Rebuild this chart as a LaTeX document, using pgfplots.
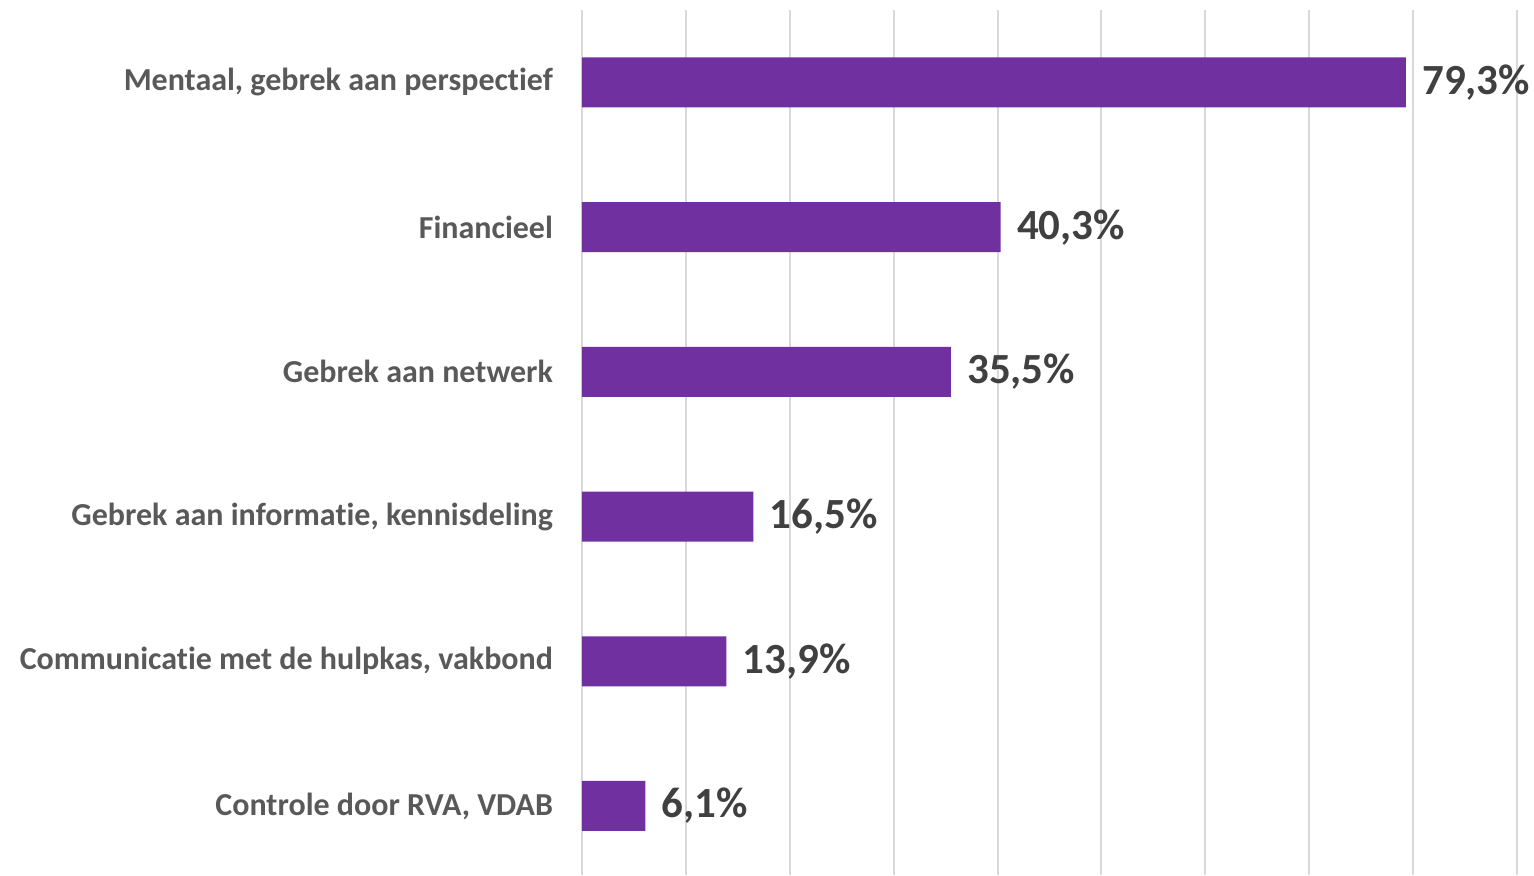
\documentclass[border=0pt]{standalone}
\usepackage{pgfplots}
\pgfplotsset{compat=1.18}
\usepackage{fontspec}
\setmainfont[Ligatures=NoCommon]{Carlito}
\definecolor{barc}{HTML}{7030A0}
\definecolor{labc}{HTML}{595959}
\definecolor{valc}{HTML}{404040}
\definecolor{gridc}{HTML}{D9D9D9}
\begin{document}
\begin{tikzpicture}
\begin{axis}[
  at={(0,0)}, anchor=south west,
  scale only axis,
  width=467.5pt, height=432.5pt,
  xbar, bar width=25pt,
  xmin=0, xmax=90,
  ymin=-0.477, ymax=5.5,
  xtick={0,10,...,90},
  xticklabels={},
  xmajorgrids,
  major grid style={gridc, line width=1pt},
  major tick length=0pt,
  ytick={0,1,2,3,4,5},
  yticklabels={{Controle door RVA, VDAB},
               {Communicatie met de hulpkas, vakbond},
               {Gebrek aan informatie, kennisdeling},
               {Gebrek aan netwerk},
               {Financieel},
               {Mentaal, gebrek aan perspectief}},
  yticklabel style={font=\bfseries\fontsize{16}{19}\selectfont, text=labc, xshift=-11pt},
  axis line style={draw=none},
  /pgf/number format/assume math mode=true,
  nodes near coords={\pgfmathprintnumber[use comma,fixed,fixed zerofill,precision=1]{\pgfplotspointmeta}\%},
  every node near coord/.append style={anchor=west, inner sep=0pt, xshift=8pt,
     font=\bfseries\fontsize{21.5}{24}\selectfont, text=valc},
  clip=false,
]
\addplot[fill=barc, draw=none] coordinates {
  (6.1,0) (13.9,1) (16.5,2) (35.5,3) (40.3,4) (79.3,5)
};
\end{axis}
\pgfresetboundingbox
\path[use as bounding box] (-291pt,0) rectangle (476pt,437.5pt);
\end{tikzpicture}
\end{document}
